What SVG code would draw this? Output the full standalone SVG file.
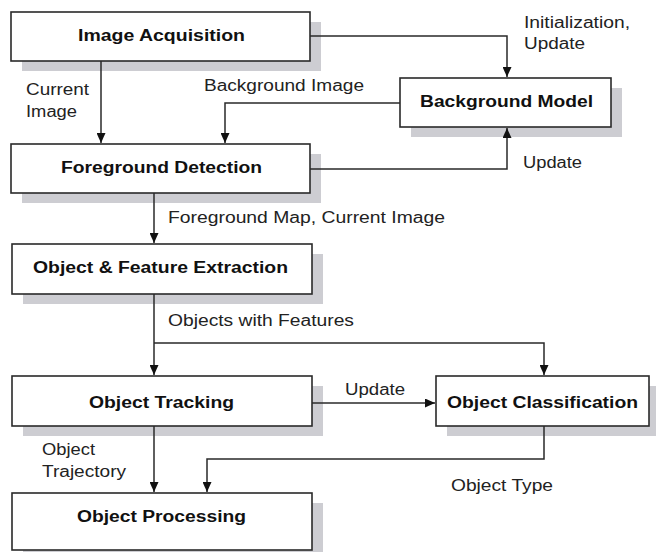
<svg xmlns="http://www.w3.org/2000/svg" width="656" height="552" viewBox="0 0 656 552">
<defs>
<style>
.sh{fill:#cdcdd2;}
.box{fill:#ffffff;stroke:#2a2a2a;stroke-width:1.6;}
.t{font-family:"Liberation Sans",Arial,sans-serif;font-size:16px;font-weight:bold;fill:#111;}
.l{font-family:"Liberation Sans",Arial,sans-serif;font-size:16px;fill:#222;}
.c{fill:none;stroke:#2a2a2a;stroke-width:1.5;}
</style>
<marker id="ah" markerUnits="userSpaceOnUse" markerWidth="10" markerHeight="9" refX="10" refY="4.5" orient="auto">
<path d="M0,0 L10,4.5 L0,9 z" fill="#111"/>
</marker>
</defs>
<rect width="656" height="552" fill="#ffffff"/>
<g id="image-acquisition">
<rect class="sh" x="22" y="22" width="299" height="49"/>
<rect class="box" x="11" y="12" width="299" height="49"/>
<text class="t" x="78" y="41" textLength="167" lengthAdjust="spacingAndGlyphs">Image Acquisition</text>
</g>
<g id="background-model">
<rect class="sh" x="411" y="88" width="211" height="49"/>
<rect class="box" x="400" y="78" width="211" height="49"/>
<text class="t" x="420" y="107" textLength="173" lengthAdjust="spacingAndGlyphs">Background Model</text>
</g>
<g id="foreground-detection">
<rect class="sh" x="22" y="154" width="299" height="49"/>
<rect class="box" x="11" y="144" width="299" height="49"/>
<text class="t" x="61" y="173" textLength="201" lengthAdjust="spacingAndGlyphs">Foreground Detection</text>
</g>
<g id="object-feature-extraction">
<rect class="sh" x="23" y="254" width="300" height="50"/>
<rect class="box" x="12" y="244" width="300" height="50"/>
<text class="t" x="33" y="273" textLength="255" lengthAdjust="spacingAndGlyphs">Object &amp; Feature Extraction</text>
</g>
<g id="object-tracking">
<rect class="sh" x="23" y="386" width="300" height="50"/>
<rect class="box" x="12" y="376" width="300" height="50"/>
<text class="t" x="89" y="408" textLength="145" lengthAdjust="spacingAndGlyphs">Object Tracking</text>
</g>
<g id="object-classification">
<rect class="sh" x="447" y="386" width="213" height="50"/>
<rect class="box" x="436" y="376" width="213" height="50"/>
<text class="t" x="447" y="408" textLength="191" lengthAdjust="spacingAndGlyphs">Object Classification</text>
</g>
<g id="object-processing">
<rect class="sh" x="23" y="503" width="300" height="57"/>
<rect class="box" x="12" y="493" width="300" height="57"/>
<text class="t" x="77" y="522" textLength="169" lengthAdjust="spacingAndGlyphs">Object Processing</text>
</g>
<g id="connectors">
<path class="c" d="M310,36 H507 V77" marker-end="url(#ah)"/>
<path class="c" d="M101,61 V143" marker-end="url(#ah)"/>
<path class="c" d="M400,103 H225 V143" marker-end="url(#ah)"/>
<path class="c" d="M310,169 H507 V128" marker-end="url(#ah)"/>
<path class="c" d="M154,193 V243" marker-end="url(#ah)"/>
<path class="c" d="M154,294 V375" marker-end="url(#ah)"/>
<path class="c" d="M154,343 H544 V375" marker-end="url(#ah)"/>
<path class="c" d="M312,403 H435" marker-end="url(#ah)"/>
<path class="c" d="M154,426 V492" marker-end="url(#ah)"/>
<path class="c" d="M544,426 V459 H207 V492" marker-end="url(#ah)"/>
</g>
<g id="labels">
<text class="l" x="524" y="28" textLength="106" lengthAdjust="spacingAndGlyphs">Initialization,</text>
<text class="l" x="524" y="49" textLength="61" lengthAdjust="spacingAndGlyphs">Update</text>
<text class="l" x="26" y="95" textLength="63" lengthAdjust="spacingAndGlyphs">Current</text>
<text class="l" x="26" y="117" textLength="51" lengthAdjust="spacingAndGlyphs">Image</text>
<text class="l" x="204" y="91" textLength="160" lengthAdjust="spacingAndGlyphs">Background Image</text>
<text class="l" x="523" y="168" textLength="59" lengthAdjust="spacingAndGlyphs">Update</text>
<text class="l" x="168" y="223" textLength="277" lengthAdjust="spacingAndGlyphs">Foreground Map, Current Image</text>
<text class="l" x="168" y="326" textLength="186" lengthAdjust="spacingAndGlyphs">Objects with Features</text>
<text class="l" x="345" y="395" textLength="60" lengthAdjust="spacingAndGlyphs">Update</text>
<text class="l" x="42" y="455" textLength="53" lengthAdjust="spacingAndGlyphs">Object</text>
<text class="l" x="42" y="477" textLength="84" lengthAdjust="spacingAndGlyphs">Trajectory</text>
<text class="l" x="451" y="491" textLength="102" lengthAdjust="spacingAndGlyphs">Object Type</text>
</g>
</svg>
